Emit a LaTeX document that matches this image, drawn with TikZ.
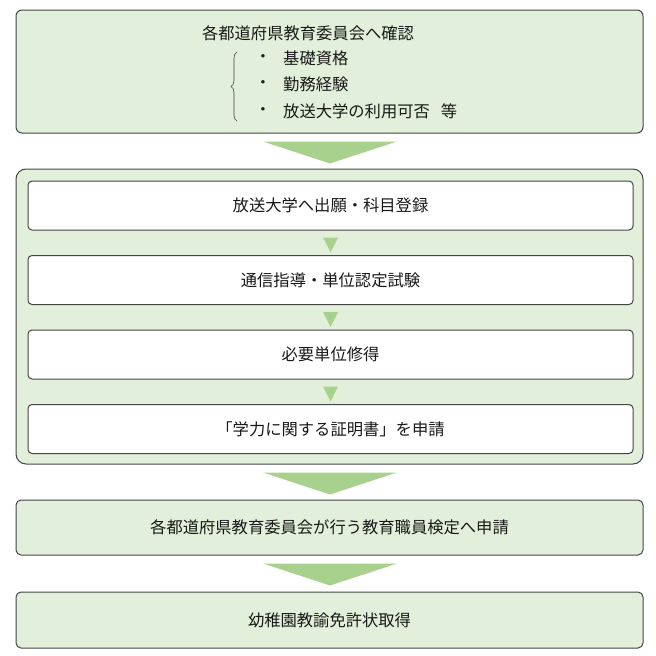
\documentclass[tikz,border=0pt]{standalone}
\usepackage{fontspec}
\setmainfont{Noto Sans CJK JP}
\usetikzlibrary{decorations.pathreplacing}
\definecolor{boxgreen}{HTML}{E2EFDA}
\definecolor{arrowgreen}{HTML}{A9D18E}
\definecolor{edgegray}{HTML}{454545}

\begin{document}
\begin{tikzpicture}[x=1pt,y=-1pt,
    greenbox/.style={draw=edgegray, line width=1pt, fill=boxgreen, rounded corners=6pt, minimum width=627pt, inner sep=0pt},
    stepbox/.style={draw=edgegray, line width=1pt, fill=white, rounded corners=4pt, minimum width=605pt, minimum height=49pt, inner sep=0pt},
    bigarrow/.style={fill=arrowgreen},
    txt/.style={font=\fontsize{16.3}{19}\selectfont, text=black!90, inner sep=0pt}]
    \useasboundingbox (0,0) rectangle (656,656);
    % confirmation with the board of education
    \node[greenbox, minimum height=123pt] (check) at (329.5,71.5) {};
    \node[txt] (checktitle) at (308,33) {各都道府県教育委員会へ確認};
    \foreach \t [count=\i] in {基礎資格, 勤務経験, 放送大学の利用可否\hspace{11pt}等}{
        \node[txt] (dot\i) at (263,32+26.5*\i) {・};
        \node[txt, anchor=west] (item\i) at (283,31.5+26.5*\i) {\t};
    }
    \draw[edgegray, line width=0.6pt, decorate, decoration={brace, amplitude=6pt}] (237,121) -- (237,52);
    % study at the open university
    \node[greenbox, rounded corners=10pt, minimum height=295pt] (group) at (329.5,316.5) {};
    \node[stepbox, txt] (apply) at (330.5,205.5) {放送大学へ出願・科目登録};
    \node[stepbox, txt] (study) at (330.5,280) {通信指導・単位認定試験};
    \node[stepbox, txt] (credit) at (330.5,354.5) {必要単位修得};
    \node[stepbox, txt] (proof) at (330.5,429) {「学力に関する証明書」を申請};
    \foreach \a in {apply, study, credit}
        \fill[bigarrow] ([xshift=-7.5pt,yshift=-7pt]\a.south) -- ([xshift=7.5pt,yshift=-7pt]\a.south) -- ([yshift=-22pt]\a.south) -- cycle;
    % application and license
    \node[greenbox, txt, rounded corners=5pt, minimum height=55pt] (exam) at (329.5,527.5) {各都道府県教育委員会が行う教育職員検定へ申請};
    \node[greenbox, txt, rounded corners=5pt, minimum height=56pt] (license) at (329.5,620) {幼稚園教諭免許状取得};
    \foreach \a in {check, group, exam}
        \fill[bigarrow] ([xshift=-66.5pt,yshift=-8pt]\a.south) -- ([xshift=67.5pt,yshift=-8pt]\a.south) -- ([xshift=0.5pt,yshift=-30pt]\a.south) -- cycle;
\end{tikzpicture}
\end{document}
